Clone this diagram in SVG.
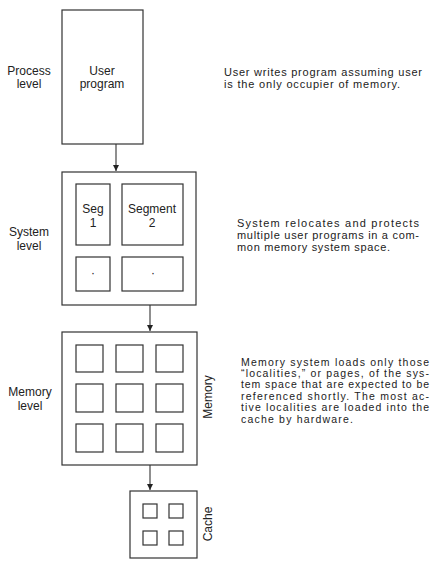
<svg xmlns="http://www.w3.org/2000/svg" width="435" height="569" viewBox="0 0 435 569">
<defs>
<marker id="arr" viewBox="0 0 8 8" refX="8" refY="4" markerWidth="6" markerHeight="6" markerUnits="userSpaceOnUse" orient="auto">
<path d="M0,0 L8,4 L0,8 Z" fill="#222"/>
</marker>
<style>
rect{fill:none;stroke:#333;stroke-width:1.2}
text{font-family:"Liberation Sans",Arial,sans-serif;fill:#222}
.lab{font-size:12px;text-anchor:middle}
.desc{font-size:11px}
.mdesc{font-size:10.5px}
.conn{stroke:#333;stroke-width:1.1;fill:none;marker-end:url(#arr)}
</style>
</defs>
<rect x="0" y="0" width="435" height="569" style="fill:#fff;stroke:none"/>

<g id="labels">
<text class="lab" x="29" y="75">Process</text>
<text class="lab" x="29" y="88">level</text>
<text class="lab" x="29" y="236">System</text>
<text class="lab" x="29" y="250">level</text>
<text class="lab" x="30" y="396">Memory</text>
<text class="lab" x="30" y="410">level</text>
</g>

<g id="user-program">
<rect x="62" y="10" width="81" height="134"/>
<text class="lab" x="102" y="75">User</text>
<text class="lab" x="102" y="88">program</text>
</g>

<g id="system">
<rect x="62" y="172" width="134" height="133"/>
<g id="seg1">
<rect x="76" y="184" width="34" height="61"/>
<text class="lab" x="93" y="213">Seg</text>
<text class="lab" x="93" y="227">1</text>
</g>
<g id="seg2">
<rect x="122" y="184" width="61" height="61"/>
<text class="lab" x="152" y="213">Segment</text>
<text class="lab" x="152" y="227">2</text>
</g>
<g id="seg3">
<rect x="76" y="257" width="34" height="34"/>
<text class="lab" x="93" y="277">·</text>
</g>
<g id="seg4">
<rect x="122" y="257" width="61" height="34"/>
<text class="lab" x="153" y="277">·</text>
</g>
</g>

<g id="memory">
<rect x="62" y="332" width="135" height="133"/>
<rect x="76" y="345" width="27" height="27"/>
<rect x="116" y="345" width="27" height="27"/>
<rect x="156" y="345" width="27" height="27"/>
<rect x="76" y="384" width="27" height="28"/>
<rect x="116" y="384" width="27" height="28"/>
<rect x="156" y="384" width="27" height="28"/>
<rect x="76" y="424" width="27" height="28"/>
<rect x="116" y="424" width="27" height="28"/>
<rect x="156" y="424" width="27" height="28"/>
<text class="lab" transform="translate(212,397) rotate(-90)" x="0" y="0">Memory</text>
</g>

<g id="cache">
<rect x="130" y="491" width="67" height="67"/>
<rect x="143" y="504" width="14" height="14"/>
<rect x="169" y="504" width="14" height="14"/>
<rect x="143" y="531" width="14" height="14"/>
<rect x="169" y="531" width="14" height="14"/>
<text class="lab" transform="translate(212,524) rotate(-90)" x="0" y="0">Cache</text>
</g>

<g id="connectors">
<line class="conn" x1="116" y1="144" x2="116" y2="171"/>
<line class="conn" x1="150" y1="305" x2="150" y2="331"/>
<line class="conn" x1="150" y1="465" x2="150" y2="490"/>
</g>

<g id="descriptions">
<text class="desc" x="224" y="76" textLength="198" lengthAdjust="spacing">User writes program assuming user</text>
<text class="desc" x="224" y="88" textLength="176" lengthAdjust="spacing">is the only occupier of memory.</text>
<text class="desc" x="237" y="227" textLength="182" lengthAdjust="spacing">System relocates and protects</text>
<text class="desc" x="237" y="239" textLength="182" lengthAdjust="spacing">multiple user programs in a com-</text>
<text class="desc" x="237" y="251" textLength="153" lengthAdjust="spacing">mon memory system space.</text>
<text class="mdesc" x="241" y="365.5" textLength="188" lengthAdjust="spacing">Memory system loads only those</text>
<text class="mdesc" x="241" y="376.9" textLength="188" lengthAdjust="spacing">“localities,” or pages, of the sys-</text>
<text class="mdesc" x="241" y="388.3" textLength="188" lengthAdjust="spacing">tem space that are expected to be</text>
<text class="mdesc" x="241" y="399.7" textLength="188" lengthAdjust="spacing">referenced shortly. The most ac-</text>
<text class="mdesc" x="241" y="411.1" textLength="188" lengthAdjust="spacing">tive localities are loaded into the</text>
<text class="mdesc" x="241" y="422.5" textLength="112" lengthAdjust="spacing">cache by hardware.</text>
</g>
</svg>
